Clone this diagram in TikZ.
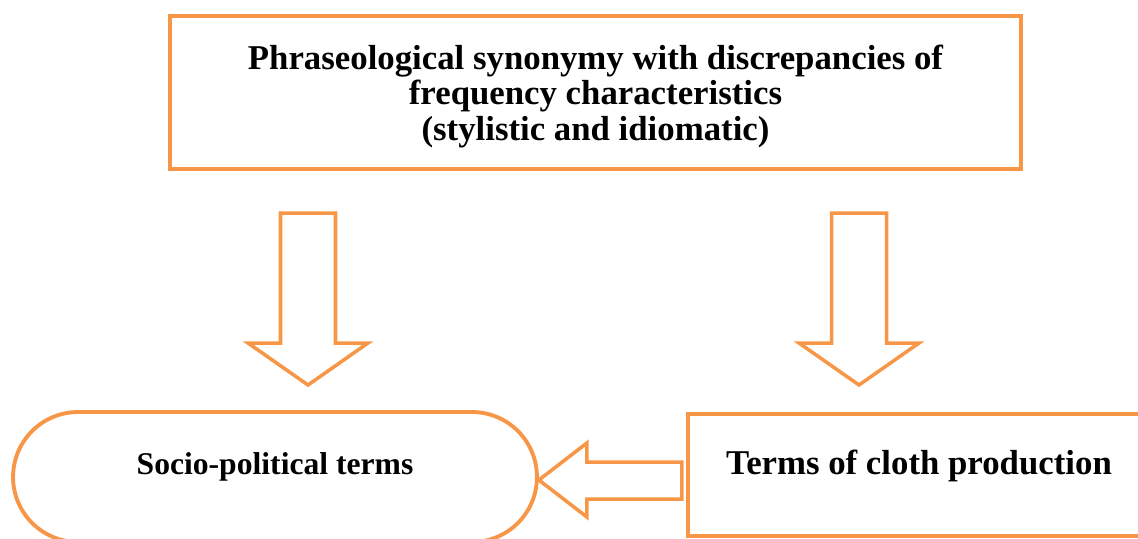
\documentclass[tikz,border=0pt]{standalone}
\usepackage{fontspec}
\setmainfont{Liberation Serif}
\usepackage{tikz}
\usetikzlibrary{positioning, calc}
\definecolor{framecol}{RGB}{247,150,70}

\begin{document}
\begin{tikzpicture}[x=0.02cm, y=-0.02cm,
  framebox/.style={draw=framecol, line width=2.2pt, fill=white,
                   inner sep=0pt, align=center},
  blockarrow/.style={draw=framecol, line width=2pt, line join=miter}]

  \useasboundingbox (0,0) rectangle (1138,538);
  \clip (0,0) rectangle (1138,538);

  % Top box
  \node[framebox, minimum width=17.02cm, minimum height=3.06cm,
        text depth=0pt, font=\bfseries\fontsize{19.8}{20.1}\selectfont]
    (synonymy) at (595.5,92.5)
    {Phraseological synonymy with discrepancies of\\
     frequency characteristics\\
     (stylistic and idiomatic)};

  % Bottom boxes (cut by the page edge)
  \node[framebox, rounded corners=1.3cm, minimum width=10.48cm,
        minimum height=2.6cm, text depth=0.55cm,
        font=\bfseries\fontsize{18}{22}\selectfont]
    (socio) at (275,477) {Socio-political terms};
  \node[framebox, minimum width=9.24cm, minimum height=2.44cm,
        text depth=0.5cm, font=\bfseries\fontsize{19.8}{23}\selectfont]
    (cloth) at (919,475) {Terms of cloth production};

  % Down arrows from the top box
  \coordinate (leftarr) at (308,213);
  \coordinate (rightarr) at (859,213);
  \foreach \a in {leftarr, rightarr} {
    \draw[blockarrow] (\a) ++(-27.5,0) -- ++(55,0) -- ++(0,130)
      -- ++(32.5,0) -- ++(-60,42) -- ++(-60,-42) -- ++(32.5,0) -- cycle;
  }

  % Arrow from cloth terms to socio-political terms
  \draw[blockarrow] (socio.east) ++(0,3) -- ++(48,-37) -- ++(0,19)
    -- ++(95,0) -- ++(0,37) -- ++(-95,0) -- ++(0,18) -- cycle;

\end{tikzpicture}
\end{document}
